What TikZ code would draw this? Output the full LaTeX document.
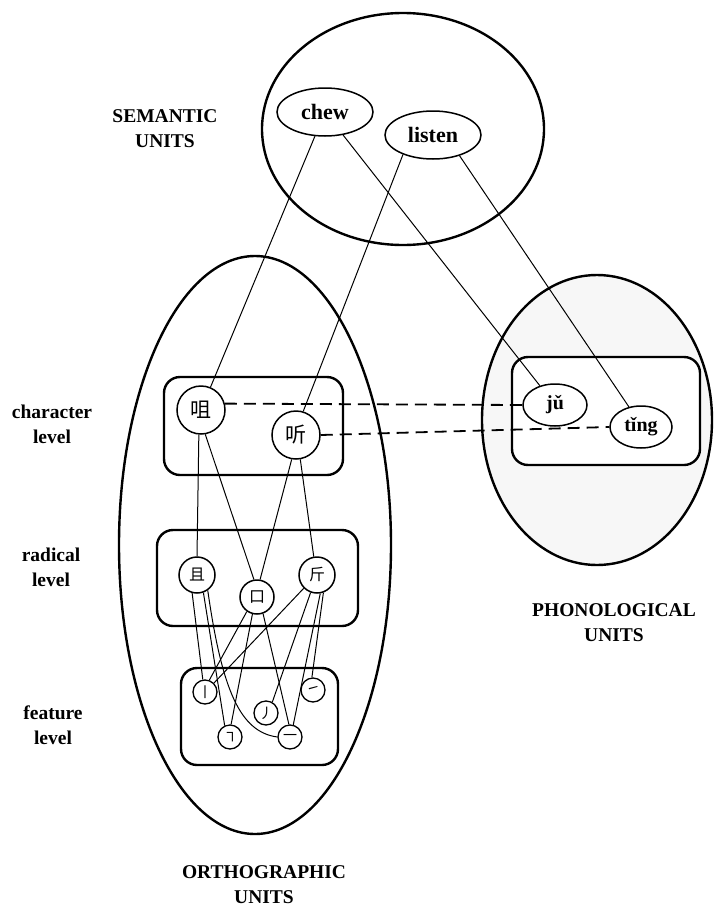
\documentclass[tikz,border=0pt]{standalone}
\usepackage{fontspec}
\setmainfont{Liberation Serif}
\newfontfamily\cjk{Noto Sans CJK SC}
\usetikzlibrary{shapes.geometric}

\tikzset{
  unitborder/.style={line width=2.4pt},
  levelbox/.style={line width=2.4pt, rounded corners=16pt},
  unitlabel/.style={font=\fontsize{19.5}{25}\selectfont\bfseries, align=center, inner sep=0pt},
  word/.style={ellipse, draw, fill=white, line width=1.5pt, inner sep=0pt,
    minimum width=96pt, minimum height=48pt, font=\fontsize{22}{22}\selectfont\bfseries},
  charnode/.style={circle, draw, fill=white, line width=1.5pt, minimum size=48pt,
    inner sep=0pt, font=\cjk\fontsize{21}{21}\selectfont},
  radnode/.style={circle, draw, fill=white, line width=1.5pt, minimum size=36pt,
    inner sep=0pt, font=\cjk\fontsize{16}{16}\selectfont},
  featnode/.style={circle, draw, fill=white, line width=1.3pt, minimum size=24pt,
    inner sep=0pt, font=\cjk\fontsize{14}{14}\selectfont},
  link/.style={line width=1pt},
  sound/.style={line width=1.8pt, dash pattern=on 12pt off 7pt}
}

\begin{document}
\begin{tikzpicture}[x=1pt,y=-1pt]
\useasboundingbox (0,0) rectangle (713,908);

% Units
\draw[unitborder] (403,129) ellipse [x radius=141, y radius=116];
\draw[unitborder] (255,545) ellipse [x radius=136, y radius=289];
\draw[unitborder, fill=black!3] (597,420) ellipse [x radius=115, y radius=145];

% Levels
\draw[levelbox] (164,377) rectangle (343,475);
\draw[levelbox] (157,530) rectangle (358,626);
\draw[levelbox] (181,668) rectangle (338,765);
\draw[levelbox, fill=white] (512,357) rectangle (700,465);

% Labels
\node[unitlabel] (semLabel) at (165,129) {SEMANTIC\\UNITS};
\node[unitlabel] (phonLabel) at (614,623) {PHONOLOGICAL\\UNITS};
\node[unitlabel] (orthLabel) at (264,885) {ORTHOGRAPHIC\\UNITS};
\node[unitlabel] (charLabel) at (52,424) {character\\level};
\node[unitlabel] (radLabel) at (51,567) {radical\\level};
\node[unitlabel] (featLabel) at (53,725) {feature\\level};

% Semantic and phonological nodes
\node[word] (sChew) at (325,112) {chew};
\node[word] (sListen) at (433,135) {listen};
\node[word, minimum width=64pt, minimum height=42pt, font=\fontsize{20}{20}\selectfont\bfseries] (pJu) at (555,405) {jǔ};
\node[word, minimum width=62pt, minimum height=42pt, font=\fontsize{20}{20}\selectfont\bfseries] (pTing) at (641,427) {tǐng};

% Characters, radicals, features
\node[charnode] (cJu) at (201,410) {咀};
\node[charnode] (cTing) at (296,435) {听};
\node[radnode] (rQie) at (197,575) {且};
\node[radnode, minimum size=34pt] (rKou) at (257,597) {口};
\node[radnode] (rJin) at (317,575) {斤};
\node[featnode] (fShu) at (205,692) {丨};
\node[featnode] (fZhe) at (230,737) {㇕};
\node[featnode] (fPie) at (266,713) {丿};
\node[featnode] (fHeng) at (290,737) {一};
\node[featnode] (fTi) at (313,690) {㇀};

% Semantic links
\draw[link] (sChew) -- (cJu);
\draw[link] (sChew) -- (pJu);
\draw[link] (sListen.213) -- (cTing.73);
\draw[link] (sListen.322) -- (pTing.121);

% Sound links
\draw[sound] (cJu.15) -- (pJu.west);
\draw[sound] (cTing.east) -- (pTing.west);

% Character to radical
\draw[link] (cJu.265) -- (rQie.north);
\draw[link] (cJu.280) -- (rKou.100);
\draw[link] (cTing.260) -- (rKou.80);
\draw[link] (cTing.280) -- (rJin.100);

% Radical to feature
\draw[link] (rQie.255) -- (fShu.100);
\draw[link] (rQie.290) -- (fZhe.115);
\draw[link] (rQie.305) .. controls (222,690) and (240,732) .. (fHeng.west);
\draw[link] (rKou.235) -- (fShu.70);
\draw[link] (rKou.255) -- (fZhe.85);
\draw[link] (rKou.290) -- (fHeng.95);
\draw[link] (rJin.225) -- (fShu.45);
\draw[link] (rJin.250) -- (fPie.60);
\draw[link] (rJin.280) -- (fHeng.75);
\draw[link] (rJin.290) -- (fTi.95);
\end{tikzpicture}
\end{document}
